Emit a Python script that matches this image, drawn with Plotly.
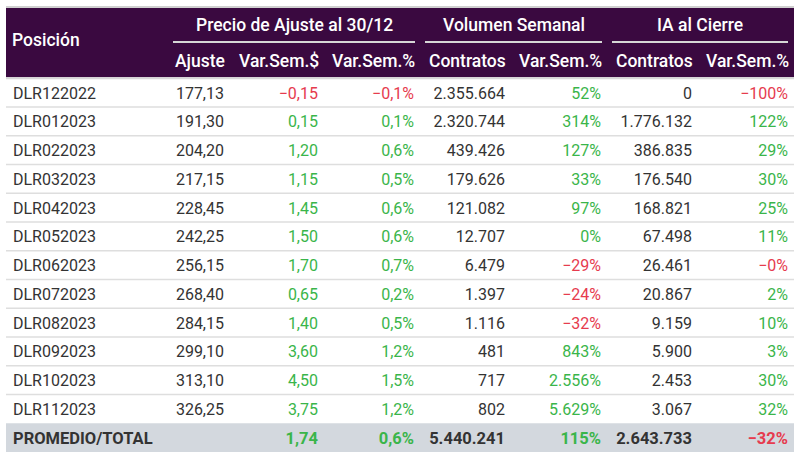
import plotly.graph_objects as go

# ---------------- data ----------------
posiciones = ["DLR122022", "DLR012023", "DLR022023", "DLR032023", "DLR042023", "DLR052023",
              "DLR062023", "DLR072023", "DLR082023", "DLR092023", "DLR102023", "DLR112023"]
total_label = "PROMEDIO/TOTAL"
ajuste = [177.13, 191.30, 204.20, 217.15, 228.45, 242.25, 256.15, 268.40, 284.15, 299.10, 313.10, 326.25]
var_sem_pesos = [-0.15, 0.15, 1.20, 1.15, 1.45, 1.50, 1.70, 0.65, 1.40, 3.60, 4.50, 3.75]
var_sem_pct = [-0.1, 0.1, 0.6, 0.5, 0.6, 0.6, 0.7, 0.2, 0.5, 1.2, 1.5, 1.2]
vol_contratos = [2355664, 2320744, 439426, 179626, 121082, 12707, 6479, 1397, 1116, 481, 717, 802]
vol_var_pct = [52, 314, 127, 33, 97, 0.2, -29, -24, -32, 843, 2556, 5629]
ia_contratos = [0, 1776132, 386835, 176540, 168821, 67498, 26461, 20867, 9159, 5900, 2453, 3067]
ia_var_pct = [-100, 122, 29, 30, 25, 11, -0.3, 2, 10, 3, 30, 32]

total_var_sem_pesos = 1.74
total_var_sem_pct = 0.6
total_vol_contratos = 5440241
total_vol_var_pct = 115
total_ia_contratos = 2643733
total_ia_var_pct = -32

group_titles = ["Precio de Ajuste al 30/12", "Volumen Semanal", "IA al Cierre"]
sub_headers = ["Ajuste", "Var.Sem.$", "Var.Sem.%", "Contratos", "Var.Sem.%", "Contratos", "Var.Sem.%"]

# ---------------- styling / layout constants ----------------
W, H = 800, 460
FONT = "Roboto"
DARK = "#333333"
GREEN = "#3ab54a"
RED = "#e63b4e"
PURPLE = "#3a0940"
TOTAL_BG = "#d3d8de"
SEP = "#dedede"
TOP = 78.25      # pixel top of first body row
RH = 28.75       # row height in pixels
TEXT_DROP = 2    # px downward nudge of body text
X_LEFT, X_RIGHT = 6, 794
col_right = [224, 318, 414, 505, 601, 692, 788]
group_spans = [(173, 415), (425, 602), (612, 788)]
HDR_SIZE = 17.5


def fmt(v, dec, suffix=""):
    s = f"{abs(v):,.{dec}f}".replace(",", "X").replace(".", ",").replace("X", ".")
    return ("\u2212" if v < 0 else "") + s + suffix


def sign_color(v):
    return RED if v < 0 else GREEN


rows = posiciones + [total_label]


def bold(lst):
    return lst[:-1] + ["<b>" + lst[-1] + "</b>"]


columns = [
    (bold([fmt(v, 2) for v in ajuste] + [""]), [DARK] * 13),
    (bold([fmt(v, 2) for v in var_sem_pesos + [total_var_sem_pesos]]),
     [sign_color(v) for v in var_sem_pesos + [total_var_sem_pesos]]),
    (bold([fmt(v, 1, "%") for v in var_sem_pct + [total_var_sem_pct]]),
     [sign_color(v) for v in var_sem_pct + [total_var_sem_pct]]),
    (bold([fmt(v, 0) for v in vol_contratos + [total_vol_contratos]]), [DARK] * 13),
    (bold([fmt(v, 0, "%") for v in vol_var_pct + [total_vol_var_pct]]),
     [sign_color(v) for v in vol_var_pct + [total_vol_var_pct]]),
    (bold([fmt(v, 0) for v in ia_contratos + [total_ia_contratos]]), [DARK] * 13),
    (bold([fmt(v, 0, "%") for v in ia_var_pct + [total_ia_var_pct]]),
     [sign_color(v) for v in ia_var_pct + [total_ia_var_pct]]),
]

sizes = [16] * 12 + [16.5]

fig = go.Figure()

# position names
fig.add_trace(go.Scatter(
    x=[13] * len(rows), y=rows, mode="text", text=bold(list(rows)),
    textposition="middle right", textfont=dict(family=FONT, size=sizes, color=DARK),
    hoverinfo="skip", showlegend=False, cliponaxis=False))

for xr, (texts, colors) in zip(col_right, columns):
    fig.add_trace(go.Scatter(
        x=[xr] * len(rows), y=rows, mode="text", text=texts,
        textposition="middle left", textfont=dict(family=FONT, size=sizes, color=colors),
        hoverinfo="skip", showlegend=False, cliponaxis=False))


def py(p):
    return 1 - p / H


shapes = []
# top strip
shapes.append(dict(type="rect", xref="x", yref="paper", x0=X_LEFT, x1=X_RIGHT, y0=py(8), y1=py(6),
                   fillcolor="#d0d0d0", line=dict(width=0), layer="below"))
# header background
shapes.append(dict(type="rect", xref="x", yref="paper", x0=X_LEFT, x1=X_RIGHT, y0=py(TOP - 1), y1=py(8),
                   fillcolor=PURPLE, line=dict(width=0), layer="below"))
# header bottom line
shapes.append(dict(type="rect", xref="x", yref="paper", x0=X_LEFT, x1=X_RIGHT, y0=py(TOP + 1), y1=py(TOP - 1),
                   fillcolor="#d8d8d8", line=dict(width=0), layer="below"))
# total row background
shapes.append(dict(type="rect", xref="x", yref="paper", x0=X_LEFT, x1=X_RIGHT,
                   y0=py(TOP + RH * 13), y1=py(TOP + RH * 12),
                   fillcolor=TOTAL_BG, line=dict(width=0), layer="below"))
# row separators
for i in range(1, 12):
    p = TOP + RH * i
    shapes.append(dict(type="line", xref="x", yref="paper", x0=X_LEFT, x1=X_RIGHT, y0=py(p), y1=py(p),
                       line=dict(color=SEP, width=1.5), layer="below"))
# group underlines
for a, b in group_spans:
    shapes.append(dict(type="line", xref="x", yref="paper", x0=a, x1=b, y0=py(42), y1=py(42),
                       line=dict(color="#d6d6d6", width=2), layer="above"))

annotations = []
hdr_font = dict(family=FONT, size=HDR_SIZE, color="white", weight=500)
annotations.append(dict(x=13, y=py(40), xref="x", yref="paper", text="Posición", showarrow=False,
                        xanchor="left", yanchor="middle", font=hdr_font, xshift=-3))
for (a, b), t in zip(group_spans, group_titles):
    annotations.append(dict(x=(a + b) / 2, y=py(25), xref="x", yref="paper", text=t, showarrow=False,
                            xanchor="center", yanchor="middle", font=hdr_font))
for xr, t in zip(col_right, sub_headers):
    annotations.append(dict(x=xr, y=py(61), xref="x", yref="paper", text=t, showarrow=False,
                            xanchor="right", yanchor="middle", font=hdr_font, xshift=3))

TOP_TXT = TOP + TEXT_DROP
y_lo = (H - TOP_TXT) / RH - 0.5
y_hi = (0 - TOP_TXT) / RH - 0.5

fig.update_layout(
    width=W, height=H, margin=dict(l=0, r=0, t=0, b=0),
    paper_bgcolor="white", plot_bgcolor="white",
    xaxis=dict(range=[0, W], visible=False, fixedrange=True),
    yaxis=dict(type="category", categoryarray=rows, range=[y_lo, y_hi], visible=False, fixedrange=True),
    shapes=shapes, annotations=annotations,
    font=dict(family=FONT),
)

fig.write_html("out.html", config={"displayModeBar": False},
               post_script="document.body.style.margin='0';")
